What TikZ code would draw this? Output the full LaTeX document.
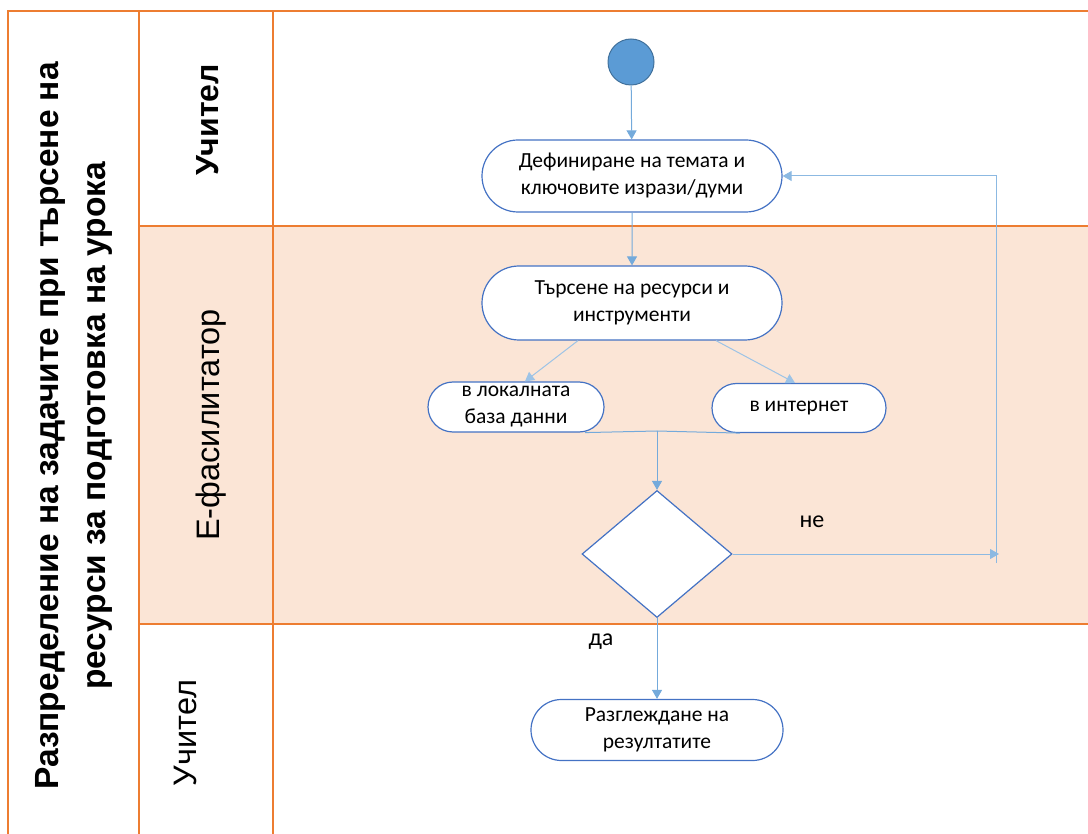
\documentclass[tikz,border=0pt]{standalone}
\usepackage{fontspec}
\setmainfont{Carlito}
\newfontfamily\arialfont{Liberation Sans}
\usepackage{tikz}
\usetikzlibrary{shapes,arrows.meta}
\definecolor{laneorange}{HTML}{ED7D31}
\definecolor{lanefill}{HTML}{FBE5D6}
\definecolor{boxblue}{HTML}{4472C4}
\definecolor{flowblue}{HTML}{5B9BD5}
\definecolor{startedge}{HTML}{41719C}

\begin{document}
\begin{tikzpicture}[x=1pt,y=-1pt,
    lane/.style={draw=laneorange,line width=1.5pt},
    lanetext/.style={rotate=90,align=center,font=\arialfont\fontsize{32.5}{47}\selectfont},
    activity/.style={rounded rectangle,draw=boxblue,line width=1.2pt,fill=white,
        align=center,inner sep=0pt,font=\fontsize{21.5}{27}\selectfont},
    flow/.style={draw=flowblue!85,line width=1pt,-{Triangle[width=10pt,length=9pt]}},
    flowline/.style={draw=flowblue!85,line width=1pt}]
    \useasboundingbox (0,0) rectangle (1088,834);

    % Swimlanes
    \fill[lanefill] (139,226) rectangle (1088,624);
    \draw[lane] (8,834) -- (8,11) -- (1088,11);
    \draw[lane] (139,11) -- (139,834);
    \draw[lane] (273,11) -- (273,834);
    \draw[lane,line width=2.4pt] (139,624) -- (139,226) -- (1088,226);
    \draw[lane] (139,624) -- (1088,624);

    % Lane titles
    \node[lanetext,font=\arialfont\bfseries\fontsize{33.5}{47}\selectfont] (title) at (74,426)
        {Разпределение на задачите при търсене на\\ресурси за подготовка на урока};
    \node[lanetext,font=\arialfont\bfseries\fontsize{32}{47}\selectfont] (teacherA) at (208,120) {Учител};
    \node[lanetext] (facil) at (211,425) {Е-фасилитатор};
    \node[lanetext] (teacherB) at (185,733) {Учител};

    % Activities
    \node[circle,fill=flowblue,draw=startedge,line width=1pt,minimum size=46pt] (start) at (631,62) {};
    \node[activity,minimum width=300pt,minimum height=72pt] (define) at (632,176)
        {Дефиниране на темата и\\ключовите изрази/думи};
    \node[activity,minimum width=300pt,minimum height=74pt] (search) at (632,303)
        {Търсене на ресурси и\\инструменти};
    \node[activity,minimum width=176pt,minimum height=50pt] (local) at (516,407)
        {в локалната\\база данни};
    \node[activity,minimum width=174pt,minimum height=49pt] (web) at (799,408) {в интернет};
    \node[diamond,draw=boxblue,fill=white,line width=1.2pt,inner sep=0pt,
        minimum width=150pt,minimum height=127pt] (check) at (657,554) {};
    \node[activity,minimum width=252pt,minimum height=61pt] (review) at (657,730)
        {Разглеждане на\\резултатите};

    % Labels
    \node[font=\fontsize{24}{28}\selectfont] (no) at (812,522) {не};
    \node[font=\fontsize{24}{28}\selectfont] (yes) at (601,642) {да};

    % Connectors
    \coordinate (join) at (657,431);
    \coordinate (loopend) at (999,554);
    \coordinate (loopbot) at (996,563);
    \draw[flow] (start) -- (define);
    \draw[flow] (define) -- (search);
    \draw[flow,draw=flowblue!60] ([xshift=-54pt]search.south) -- ([xshift=9pt]local.north);
    \draw[flow,draw=flowblue!60] ([xshift=84pt]search.south) -- ([xshift=-4pt]web.north);
    \draw[flowline] ([xshift=69pt]local.south) -- (join);
    \draw[flowline] ([xshift=-59pt]web.south) -- (join);
    \draw[flow] (join) -- (check.north);
    \draw[flow,draw=flowblue!70] (check.east) -- (loopend);
    \draw[flow,draw=flowblue!70] (loopbot) |- (define.east);
    \draw[flow] (check.south) -- (review.north);
\end{tikzpicture}
\end{document}
